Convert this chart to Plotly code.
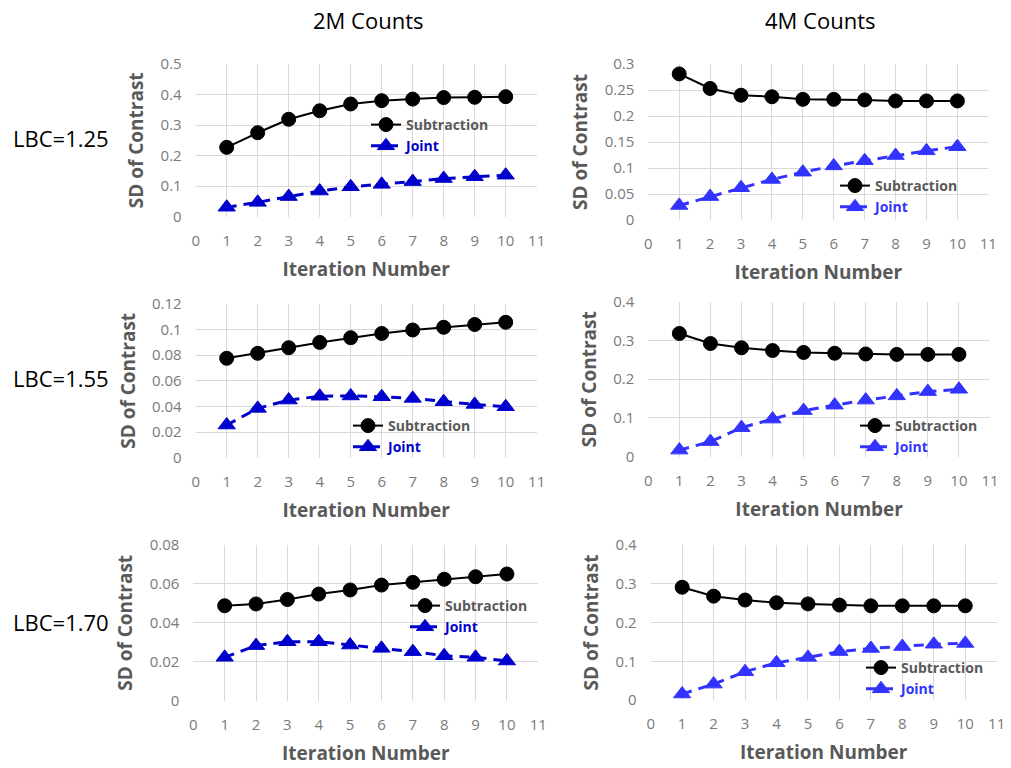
import plotly.graph_objects as go

W, H = 1011, 768

iterations = [1, 2, 3, 4, 5, 6, 7, 8, 9, 10]

# LBC=1.25
sub_2m_125 = [0.227, 0.275, 0.319, 0.347, 0.369, 0.380, 0.385, 0.390, 0.391, 0.393]
joint_2m_125 = [0.031, 0.047, 0.066, 0.084, 0.098, 0.106, 0.115, 0.125, 0.131, 0.136]
sub_4m_125 = [0.281, 0.253, 0.240, 0.237, 0.232, 0.232, 0.231, 0.229, 0.229, 0.229]
joint_4m_125 = [0.028, 0.045, 0.062, 0.078, 0.092, 0.104, 0.114, 0.124, 0.133, 0.141]
# LBC=1.55
sub_2m_155 = [0.0776, 0.0815, 0.0859, 0.0900, 0.0937, 0.0970, 0.0997, 0.1018, 0.1040, 0.1057]
joint_2m_155 = [0.0255, 0.0385, 0.0450, 0.0480, 0.0482, 0.0476, 0.0463, 0.0437, 0.0416, 0.0398]
sub_4m_155 = [0.318, 0.292, 0.281, 0.274, 0.269, 0.267, 0.265, 0.264, 0.264, 0.264]
joint_4m_155 = [0.017, 0.039, 0.075, 0.097, 0.119, 0.133, 0.146, 0.157, 0.168, 0.174]
# LBC=1.70
sub_2m_170 = [0.0488, 0.0497, 0.0520, 0.0548, 0.0569, 0.0594, 0.0608, 0.0624, 0.0637, 0.0651]
joint_2m_170 = [0.0223, 0.0283, 0.0303, 0.0303, 0.0286, 0.0269, 0.0252, 0.0231, 0.0223, 0.0204]
sub_4m_170 = [0.291, 0.268, 0.258, 0.251, 0.248, 0.245, 0.243, 0.243, 0.243, 0.243]
joint_4m_170 = [0.0155, 0.041, 0.073, 0.096, 0.110, 0.125, 0.133, 0.138, 0.144, 0.146]

column_titles = ["2M Counts", "4M Counts"]
row_labels = ["LBC=1.25", "LBC=1.55", "LBC=1.70"]
series_names = ["Subtraction", "Joint"]
x_title = "Iteration Number"
y_title = "SD of Contrast"

panels = [
    dict(sub=sub_2m_125, joint=joint_2m_125, ymax=0.5, dy=0.1, blue="#0000cc",
         box=(195.7, 536.7, 64, 216.7), leg=(383, 124)),
    dict(sub=sub_4m_125, joint=joint_4m_125, ymax=0.3, dy=0.05, blue="#3333ff",
         box=(648.3, 988.3, 64, 220), leg=(852, 185)),
    dict(sub=sub_2m_155, joint=joint_2m_155, ymax=0.12, dy=0.02, blue="#0000cc",
         box=(195.7, 536.7, 304, 457.7), leg=(365, 425)),
    dict(sub=sub_4m_155, joint=joint_4m_155, ymax=0.4, dy=0.1, blue="#3333ff",
         box=(648.3, 990, 301.7, 456.7), leg=(872, 425)),
    dict(sub=sub_2m_170, joint=joint_2m_170, ymax=0.08, dy=0.02, blue="#0000cc",
         box=(193.3, 538.3, 545, 700.7), leg=(422, 605)),
    dict(sub=sub_4m_170, joint=joint_4m_170, ymax=0.4, dy=0.1, blue="#3333ff",
         box=(650.7, 996.7, 545, 700), leg=(878, 667)),
]

FONT = "Open Sans"
GRAY = "#595959"
TICKGRAY = "#7a7a7a"
GRID = "#d9d9d9"

fig = go.Figure()
layout = dict(
    width=W, height=H,
    margin=dict(l=0, r=0, t=0, b=0, autoexpand=False),
    paper_bgcolor="white", plot_bgcolor="white",
    font=dict(family=FONT, color=GRAY),
)

for i, p in enumerate(panels):
    k = i + 1
    xa = "x" if k == 1 else f"x{k}"
    ya = "y" if k == 1 else f"y{k}"
    lg = "legend" if k == 1 else f"legend{k}"
    x0, x1, y0, y1 = p["box"]
    fig.add_trace(go.Scatter(
        x=iterations, y=p["sub"], xaxis=xa, yaxis=ya, legend=lg,
        name=f"<b>{series_names[0]}</b>", mode="lines+markers",
        line=dict(color="black", width=2),
        marker=dict(symbol="circle", size=14, color="black", line=dict(color="black", width=1)),
    ))
    fig.add_trace(go.Scatter(
        x=iterations, y=p["joint"], xaxis=xa, yaxis=ya, legend=lg,
        name=f"<b><span style='color:{p['blue']}'>{series_names[1]}</span></b>",
        mode="lines+markers",
        line=dict(color=p["blue"], width=3, dash="10px,7px"),
        marker=dict(symbol="triangle-up", size=15, color=p["blue"], line=dict(color=p["blue"], width=1)),
    ))
    xkey = "xaxis" if k == 1 else f"xaxis{k}"
    ykey = "yaxis" if k == 1 else f"yaxis{k}"
    layout[xkey] = dict(
        domain=[x0 / W, x1 / W], anchor=ya, range=[0, 11], automargin=False,
        tickmode="linear", tick0=0, dtick=1,
        showgrid=True, gridcolor=GRID, gridwidth=1, zeroline=False,
        showline=False, ticks="", ticklabelstandoff=13,
        tickfont=dict(family=FONT, size=15, color=TICKGRAY),
        title=dict(text=f"<b>{x_title}</b>", font=dict(family=FONT, size=19, color=GRAY), standoff=13),
    )
    layout[ykey] = dict(
        domain=[1 - y1 / H, 1 - y0 / H], anchor=xa, range=[0, p["ymax"]], automargin=False,
        tickmode="linear", tick0=0, dtick=p["dy"],
        showgrid=True, gridcolor=GRID, gridwidth=1, zeroline=False,
        showline=False, ticks="", ticklabelstandoff=13,
        tickfont=dict(family=FONT, size=15, color=TICKGRAY),
        title=dict(text=f"<b>{y_title}</b>", font=dict(family=FONT, size=19, color=GRAY), standoff=11),
    )
    lx, ly = p["leg"]
    layout[lg] = dict(
        x=(lx - 17) / W, y=1 - (ly - 15) / H, xanchor="left", yanchor="top",
        bgcolor="rgba(255,255,255,0)", borderwidth=0,
        font=dict(family=FONT, size=14, color=GRAY),
        tracegroupgap=0, itemwidth=30,
    )

fig.update_layout(**layout)

# column titles
for txt, cx in zip(column_titles, [368, 820]):
    fig.add_annotation(text=txt, x=cx / W, y=1 - 20 / H, xref="paper", yref="paper",
                       showarrow=False, font=dict(family=FONT, size=22, color="black"),
                       xanchor="center", yanchor="middle")
# row labels
for txt, cy in zip(row_labels, [138, 378, 622]):
    fig.add_annotation(text=txt, x=11 / W, y=1 - cy / H, xref="paper", yref="paper",
                       showarrow=False, font=dict(family=FONT, size=22, color="black"),
                       xanchor="left", yanchor="middle")

fig.write_html("out.html")
